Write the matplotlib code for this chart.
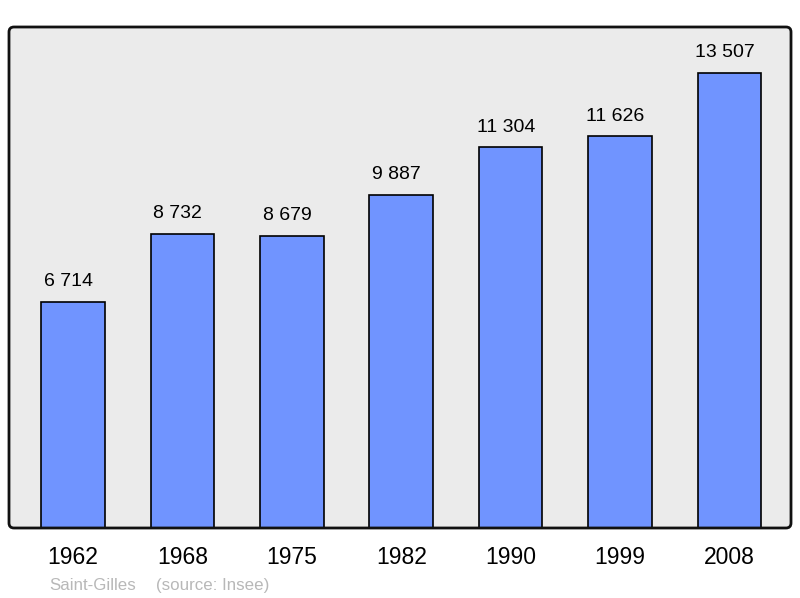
import matplotlib.pyplot as plt
from matplotlib.patches import FancyBboxPatch

plt.rcParams['font.family'] = ['Liberation Sans', 'DejaVu Sans']

# Population data
years = ["1962", "1968", "1975", "1982", "1990", "1999", "2008"]
population = [6714, 8732, 8679, 9887, 11304, 11626, 13507]
town = "Saint-Gilles"
source = "(source: Insee)"

fig = plt.figure(figsize=(8, 5.98), dpi=100)
ax = fig.add_axes([9 / 800, 70 / 598, 782 / 800, 501 / 598])
ax.set_facecolor("#ebebeb")

x = list(range(len(years)))
ax.bar(x, population, width=0.58, color="#7094ff", edgecolor="black", linewidth=1.2, zorder=2)

for i, v in enumerate(population):
    label = f"{v:,}".replace(",", " ")
    ax.annotate(label, (i, v), xytext=(-3.5, 14.5), textcoords="offset points",
                ha="center", va="center", fontsize=14, color="black")
    ax.annotate(years[i], (i, 0), xycoords=("data", "axes fraction"),
                xytext=(0, -21.5), textcoords="offset points",
                ha="center", va="center", fontsize=16.5, color="black",
                annotation_clip=False)

ax.set_xlim(-0.585, 6.563)
ax.set_ylim(0, 13507 / 455 * 501)
ax.set_xticks([])
ax.set_yticks([])
for s in ax.spines.values():
    s.set_visible(False)

# rounded frame
frame = FancyBboxPatch((9 / 100, 70 / 100), 782 / 100, 501 / 100,
                       boxstyle="round,pad=0,rounding_size=0.05",
                       transform=fig.dpi_scale_trans, fill=False,
                       edgecolor="#111111", linewidth=2, zorder=5)
fig.patches.append(frame)

fig.text(49 / 800, 1 - 590 / 598, town, fontsize=12.2, color="#b8b8b8", va="baseline")
fig.text(156 / 800, 1 - 590 / 598, source, fontsize=12.2, color="#b8b8b8", va="baseline")

plt.savefig("out.png", dpi=100)
